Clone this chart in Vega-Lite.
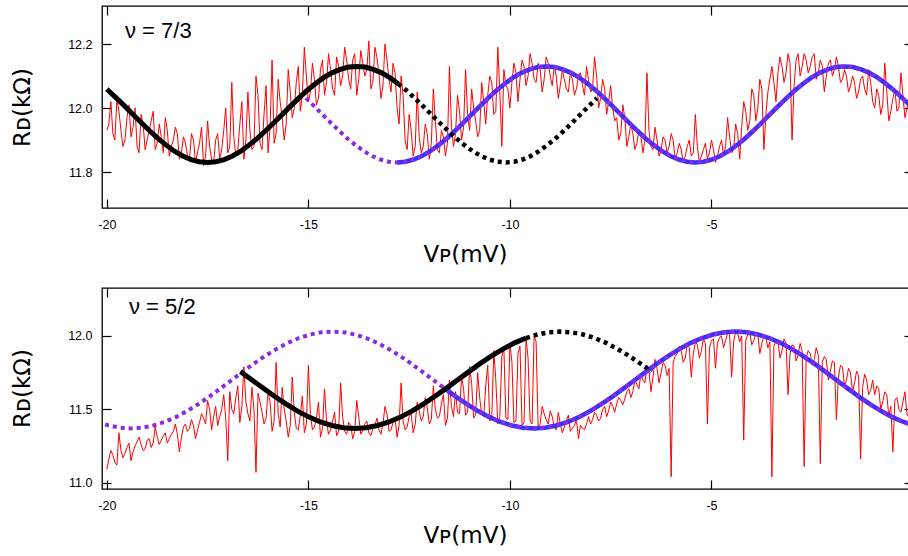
{
"$schema":"https://vega.github.io/schema/vega-lite/v6.json",
"background":"white",
"padding":{"left":10,"top":4,"right":0,"bottom":0},
"spacing":18,
"config":{"view":{"stroke":"#000","strokeWidth":1.3},"axis":{"grid":false,"domain":false,"tickColor":"#000","tickWidth":1.2,"labelColor":"#000","labelFont":"Liberation Sans","labelFontSize":12.5,"titleFont":"DejaVu Sans","titleFontSize":23,"titleFontWeight":"normal","titleColor":"#000","labelExpr":"replace(datum.label, '−', '-')"}},
"datasets":{
"topRed":[{"x":-20.0,"y":11.93},{"x":-19.9,"y":12.02},{"x":-19.8,"y":11.90},{"x":-19.7,"y":11.99},{"x":-19.6,"y":11.88},{"x":-19.5,"y":11.97},{"x":-19.4,"y":11.91},{"x":-19.3,"y":12.00},{"x":-19.2,"y":11.86},{"x":-19.1,"y":11.95},{"x":-19.0,"y":11.90},{"x":-18.9,"y":11.96},{"x":-18.8,"y":11.87},{"x":-18.7,"y":11.95},{"x":-18.6,"y":11.86},{"x":-18.5,"y":11.93},{"x":-18.4,"y":11.88},{"x":-18.3,"y":11.94},{"x":-18.2,"y":11.84},{"x":-18.1,"y":11.91},{"x":-18.0,"y":11.85},{"x":-17.9,"y":11.92},{"x":-17.8,"y":11.83},{"x":-17.7,"y":11.89},{"x":-17.6,"y":11.82},{"x":-17.5,"y":11.96},{"x":-17.4,"y":11.84},{"x":-17.3,"y":11.90},{"x":-17.2,"y":11.84},{"x":-17.1,"y":11.93},{"x":-17.0,"y":11.86},{"x":-16.9,"y":12.08},{"x":-16.8,"y":11.85},{"x":-16.7,"y":11.95},{"x":-16.6,"y":11.84},{"x":-16.5,"y":12.05},{"x":-16.4,"y":11.87},{"x":-16.3,"y":12.10},{"x":-16.2,"y":11.89},{"x":-16.1,"y":11.98},{"x":-16.0,"y":11.86},{"x":-15.9,"y":12.15},{"x":-15.8,"y":11.92},{"x":-15.7,"y":12.02},{"x":-15.6,"y":11.90},{"x":-15.5,"y":12.12},{"x":-15.4,"y":11.97},{"x":-15.3,"y":12.08},{"x":-15.2,"y":11.99},{"x":-15.1,"y":12.19},{"x":-15.0,"y":12.02},{"x":-14.9,"y":12.14},{"x":-14.8,"y":12.01},{"x":-14.7,"y":12.12},{"x":-14.6,"y":12.04},{"x":-14.5,"y":12.17},{"x":-14.4,"y":12.06},{"x":-14.3,"y":12.16},{"x":-14.2,"y":12.07},{"x":-14.1,"y":12.19},{"x":-14.0,"y":12.09},{"x":-13.9,"y":12.15},{"x":-13.8,"y":12.04},{"x":-13.7,"y":12.18},{"x":-13.6,"y":12.10},{"x":-13.5,"y":12.21},{"x":-13.4,"y":12.08},{"x":-13.3,"y":12.16},{"x":-13.2,"y":12.03},{"x":-13.1,"y":12.20},{"x":-13.0,"y":12.09},{"x":-12.9,"y":12.14},{"x":-12.8,"y":12.00},{"x":-12.7,"y":12.10},{"x":-12.6,"y":11.90},{"x":-12.5,"y":11.98},{"x":-12.4,"y":11.85},{"x":-12.3,"y":12.05},{"x":-12.2,"y":11.86},{"x":-12.1,"y":11.95},{"x":-12.0,"y":11.84},{"x":-11.9,"y":12.06},{"x":-11.8,"y":11.87},{"x":-11.7,"y":11.93},{"x":-11.6,"y":11.85},{"x":-11.5,"y":12.13},{"x":-11.4,"y":11.88},{"x":-11.3,"y":12.04},{"x":-11.2,"y":11.90},{"x":-11.1,"y":12.12},{"x":-11.0,"y":11.93},{"x":-10.9,"y":12.00},{"x":-10.8,"y":11.91},{"x":-10.7,"y":12.08},{"x":-10.6,"y":11.95},{"x":-10.5,"y":12.10},{"x":-10.4,"y":11.98},{"x":-10.3,"y":12.19},{"x":-10.2,"y":11.88},{"x":-10.1,"y":12.07},{"x":-10.0,"y":12.00},{"x":-9.9,"y":12.14},{"x":-9.8,"y":12.02},{"x":-9.7,"y":12.15},{"x":-9.6,"y":12.07},{"x":-9.5,"y":12.17},{"x":-9.4,"y":12.09},{"x":-9.3,"y":12.14},{"x":-9.2,"y":12.05},{"x":-9.1,"y":12.16},{"x":-9.0,"y":12.10},{"x":-8.9,"y":12.13},{"x":-8.8,"y":12.03},{"x":-8.7,"y":12.12},{"x":-8.6,"y":12.06},{"x":-8.5,"y":12.11},{"x":-8.4,"y":12.04},{"x":-8.3,"y":12.10},{"x":-8.2,"y":12.07},{"x":-8.1,"y":12.13},{"x":-8.0,"y":12.05},{"x":-7.9,"y":12.16},{"x":-7.8,"y":12.00},{"x":-7.7,"y":12.09},{"x":-7.6,"y":11.98},{"x":-7.5,"y":12.07},{"x":-7.4,"y":11.96},{"x":-7.3,"y":11.90},{"x":-7.2,"y":12.01},{"x":-7.1,"y":11.88},{"x":-7.0,"y":11.95},{"x":-6.9,"y":11.87},{"x":-6.8,"y":11.93},{"x":-6.7,"y":11.86},{"x":-6.6,"y":12.11},{"x":-6.5,"y":11.88},{"x":-6.4,"y":11.94},{"x":-6.3,"y":11.85},{"x":-6.2,"y":11.91},{"x":-6.1,"y":11.86},{"x":-6.0,"y":11.92},{"x":-5.9,"y":11.84},{"x":-5.8,"y":11.89},{"x":-5.7,"y":11.83},{"x":-5.6,"y":11.88},{"x":-5.5,"y":11.85},{"x":-5.4,"y":11.98},{"x":-5.3,"y":11.83},{"x":-5.2,"y":11.87},{"x":-5.1,"y":11.84},{"x":-5.0,"y":11.90},{"x":-4.9,"y":11.83},{"x":-4.8,"y":11.88},{"x":-4.7,"y":11.85},{"x":-4.6,"y":11.97},{"x":-4.5,"y":11.86},{"x":-4.4,"y":11.95},{"x":-4.3,"y":11.84},{"x":-4.2,"y":12.02},{"x":-4.1,"y":11.93},{"x":-4.0,"y":12.06},{"x":-3.9,"y":11.96},{"x":-3.8,"y":12.09},{"x":-3.7,"y":11.87},{"x":-3.6,"y":12.05},{"x":-3.5,"y":12.13},{"x":-3.4,"y":12.02},{"x":-3.3,"y":12.16},{"x":-3.2,"y":12.08},{"x":-3.1,"y":12.17},{"x":-3.0,"y":11.90},{"x":-2.9,"y":12.15},{"x":-2.8,"y":12.10},{"x":-2.7,"y":12.17},{"x":-2.6,"y":12.11},{"x":-2.5,"y":12.16},{"x":-2.4,"y":12.09},{"x":-2.3,"y":12.15},{"x":-2.2,"y":12.05},{"x":-2.1,"y":12.14},{"x":-2.0,"y":12.10},{"x":-1.9,"y":12.16},{"x":-1.8,"y":12.08},{"x":-1.7,"y":12.12},{"x":-1.6,"y":12.05},{"x":-1.5,"y":12.10},{"x":-1.4,"y":12.03},{"x":-1.3,"y":12.09},{"x":-1.2,"y":12.06},{"x":-1.1,"y":12.12},{"x":-1.0,"y":12.02},{"x":-0.9,"y":12.06},{"x":-0.8,"y":11.98},{"x":-0.7,"y":12.14},{"x":-0.6,"y":11.96},{"x":-0.5,"y":12.03},{"x":-0.4,"y":11.99},{"x":-0.3,"y":12.11},{"x":-0.2,"y":11.97},{"x":-0.1,"y":12.02},
{"x":-19.95,"y":11.95},{"x":-19.85,"y":11.92},{"x":-19.75,"y":12.03},{"x":-19.65,"y":11.93},{"x":-19.55,"y":11.90},{"x":-19.45,"y":12.01},{"x":-19.35,"y":11.94},{"x":-19.25,"y":11.88},{"x":-19.15,"y":11.98},{"x":-19.05,"y":11.87},{"x":-18.95,"y":11.93},{"x":-18.85,"y":11.99},{"x":-18.75,"y":11.89},{"x":-18.65,"y":11.91},{"x":-18.55,"y":11.97},{"x":-18.45,"y":11.85},{"x":-18.35,"y":11.90},{"x":-18.25,"y":11.92},{"x":-18.15,"y":11.86},{"x":-18.05,"y":11.89},{"x":-17.95,"y":11.84},{"x":-17.85,"y":11.90},{"x":-17.75,"y":11.86},{"x":-17.65,"y":11.94},{"x":-17.55,"y":11.85},{"x":-17.45,"y":11.88},{"x":-17.35,"y":11.83},{"x":-17.25,"y":11.92},{"x":-17.15,"y":11.87},{"x":-17.05,"y":12.00},{"x":-16.95,"y":11.88},{"x":-16.85,"y":11.91},{"x":-16.75,"y":11.87},{"x":-16.65,"y":12.02},{"x":-16.55,"y":11.90},{"x":-16.45,"y":11.93},{"x":-16.35,"y":11.88},{"x":-16.25,"y":12.04},{"x":-16.15,"y":11.87},{"x":-16.05,"y":12.07},{"x":-15.95,"y":11.94},{"x":-15.85,"y":11.89},{"x":-15.75,"y":12.09},{"x":-15.65,"y":11.97},{"x":-15.55,"y":11.95},{"x":-15.45,"y":12.05},{"x":-15.35,"y":12.00},{"x":-15.25,"y":12.13},{"x":-15.15,"y":12.04},{"x":-15.05,"y":12.10},{"x":-14.95,"y":12.05},{"x":-14.85,"y":12.09},{"x":-14.75,"y":12.03},{"x":-14.65,"y":12.15},{"x":-14.55,"y":12.08},{"x":-14.45,"y":12.12},{"x":-14.35,"y":12.04},{"x":-14.25,"y":12.13},{"x":-14.15,"y":12.10},{"x":-14.05,"y":12.15},{"x":-13.95,"y":12.06},{"x":-13.85,"y":12.17},{"x":-13.75,"y":12.09},{"x":-13.65,"y":12.14},{"x":-13.55,"y":12.12},{"x":-13.45,"y":12.06},{"x":-13.35,"y":12.19},{"x":-13.25,"y":12.11},{"x":-13.15,"y":12.07},{"x":-13.05,"y":12.15},{"x":-12.95,"y":12.05},{"x":-12.85,"y":12.11},{"x":-12.75,"y":11.95},{"x":-12.65,"y":12.04},{"x":-12.55,"y":11.87},{"x":-12.45,"y":11.93},{"x":-12.35,"y":11.88},{"x":-12.25,"y":11.91},{"x":-12.15,"y":11.88},{"x":-12.05,"y":11.92},{"x":-11.95,"y":11.89},{"x":-11.85,"y":11.96},{"x":-11.75,"y":11.86},{"x":-11.65,"y":11.91},{"x":-11.55,"y":11.89},{"x":-11.45,"y":11.94},{"x":-11.35,"y":11.92},{"x":-11.25,"y":11.99},{"x":-11.15,"y":11.94},{"x":-11.05,"y":11.98},{"x":-10.95,"y":12.06},{"x":-10.85,"y":11.96},{"x":-10.75,"y":11.93},{"x":-10.65,"y":12.02},{"x":-10.55,"y":12.04},{"x":-10.45,"y":12.08},{"x":-10.35,"y":11.99},{"x":-10.25,"y":12.05},{"x":-10.15,"y":12.12},{"x":-10.05,"y":12.06},{"x":-9.95,"y":12.08},{"x":-9.85,"y":12.11},{"x":-9.75,"y":12.09},{"x":-9.65,"y":12.13},{"x":-9.55,"y":12.10},{"x":-9.45,"y":12.14},{"x":-9.35,"y":12.08},{"x":-9.25,"y":12.12},{"x":-9.15,"y":12.09},{"x":-9.05,"y":12.14},{"x":-8.95,"y":12.07},{"x":-8.85,"y":12.10},{"x":-8.75,"y":12.07},{"x":-8.65,"y":12.09},{"x":-8.55,"y":12.05},{"x":-8.45,"y":12.09},{"x":-8.35,"y":12.06},{"x":-8.25,"y":12.11},{"x":-8.15,"y":12.04},{"x":-8.05,"y":12.09},{"x":-7.95,"y":12.06},{"x":-7.85,"y":12.10},{"x":-7.75,"y":12.03},{"x":-7.65,"y":12.06},{"x":-7.55,"y":12.02},{"x":-7.45,"y":12.00},{"x":-7.35,"y":11.97},{"x":-7.25,"y":11.92},{"x":-7.15,"y":11.97},{"x":-7.05,"y":11.91},{"x":-6.95,"y":11.92},{"x":-6.85,"y":11.89},{"x":-6.75,"y":11.91},{"x":-6.65,"y":11.90},{"x":-6.55,"y":11.93},{"x":-6.45,"y":11.87},{"x":-6.35,"y":11.90},{"x":-6.25,"y":11.87},{"x":-6.15,"y":11.90},{"x":-6.05,"y":11.88},{"x":-5.95,"y":11.90},{"x":-5.85,"y":11.86},{"x":-5.75,"y":11.87},{"x":-5.65,"y":11.85},{"x":-5.55,"y":11.90},{"x":-5.45,"y":11.86},{"x":-5.35,"y":11.88},{"x":-5.25,"y":11.85},{"x":-5.15,"y":11.89},{"x":-5.05,"y":11.86},{"x":-4.95,"y":11.87},{"x":-4.85,"y":11.85},{"x":-4.75,"y":11.90},{"x":-4.65,"y":11.88},{"x":-4.55,"y":11.91},{"x":-4.45,"y":11.87},{"x":-4.35,"y":11.92},{"x":-4.25,"y":11.94},{"x":-4.15,"y":11.99},{"x":-4.05,"y":11.96},{"x":-3.95,"y":12.04},{"x":-3.85,"y":12.00},{"x":-3.75,"y":12.06},{"x":-3.65,"y":11.98},{"x":-3.55,"y":12.09},{"x":-3.45,"y":12.08},{"x":-3.35,"y":12.11},{"x":-3.25,"y":12.13},{"x":-3.15,"y":12.11},{"x":-3.05,"y":12.14},{"x":-2.95,"y":12.07},{"x":-2.85,"y":12.17},{"x":-2.75,"y":12.13},{"x":-2.65,"y":12.15},{"x":-2.55,"y":12.13},{"x":-2.45,"y":12.17},{"x":-2.35,"y":12.11},{"x":-2.25,"y":12.13},{"x":-2.15,"y":12.10},{"x":-2.05,"y":12.15},{"x":-1.95,"y":12.12},{"x":-1.85,"y":12.13},{"x":-1.75,"y":12.09},{"x":-1.65,"y":12.10},{"x":-1.55,"y":12.07},{"x":-1.45,"y":12.08},{"x":-1.35,"y":12.05},{"x":-1.25,"y":12.10},{"x":-1.15,"y":12.04},{"x":-1.05,"y":12.08},{"x":-0.95,"y":12.00},{"x":-0.85,"y":12.04},{"x":-0.75,"y":12.01},{"x":-0.65,"y":12.05},{"x":-0.55,"y":11.99},{"x":-0.45,"y":12.06},{"x":-0.35,"y":12.00},{"x":-0.25,"y":12.04},{"x":-0.15,"y":12.00},{"x":-0.05,"y":11.98}],
"botRed":[{"x":-20.0,"y":11.09},{"x":-19.9,"y":11.22},{"x":-19.8,"y":11.14},{"x":-19.7,"y":11.34},{"x":-19.6,"y":11.17},{"x":-19.5,"y":11.24},{"x":-19.4,"y":11.15},{"x":-19.3,"y":11.25},{"x":-19.2,"y":11.31},{"x":-19.1,"y":11.22},{"x":-19.0,"y":11.29},{"x":-18.9,"y":11.24},{"x":-18.8,"y":11.38},{"x":-18.7,"y":11.26},{"x":-18.6,"y":11.32},{"x":-18.5,"y":11.27},{"x":-18.4,"y":11.33},{"x":-18.3,"y":11.40},{"x":-18.2,"y":11.21},{"x":-18.1,"y":11.38},{"x":-18.0,"y":11.35},{"x":-17.9,"y":11.43},{"x":-17.8,"y":11.30},{"x":-17.7,"y":11.41},{"x":-17.6,"y":11.44},{"x":-17.5,"y":11.56},{"x":-17.4,"y":11.36},{"x":-17.3,"y":11.52},{"x":-17.2,"y":11.45},{"x":-17.1,"y":11.60},{"x":-17.0,"y":11.15},{"x":-16.9,"y":11.50},{"x":-16.8,"y":11.58},{"x":-16.7,"y":11.41},{"x":-16.6,"y":11.79},{"x":-16.5,"y":11.47},{"x":-16.4,"y":11.65},{"x":-16.3,"y":11.07},{"x":-16.2,"y":11.55},{"x":-16.1,"y":11.40},{"x":-16.0,"y":11.62},{"x":-15.9,"y":11.35},{"x":-15.8,"y":11.82},{"x":-15.7,"y":11.38},{"x":-15.6,"y":11.50},{"x":-15.5,"y":11.31},{"x":-15.4,"y":11.72},{"x":-15.3,"y":11.37},{"x":-15.2,"y":11.46},{"x":-15.1,"y":11.34},{"x":-15.0,"y":11.80},{"x":-14.9,"y":11.36},{"x":-14.8,"y":11.44},{"x":-14.7,"y":11.31},{"x":-14.6,"y":11.64},{"x":-14.5,"y":11.33},{"x":-14.4,"y":11.42},{"x":-14.3,"y":11.32},{"x":-14.2,"y":11.68},{"x":-14.1,"y":11.35},{"x":-14.0,"y":11.41},{"x":-13.9,"y":11.30},{"x":-13.8,"y":11.56},{"x":-13.7,"y":11.33},{"x":-13.6,"y":11.40},{"x":-13.5,"y":11.34},{"x":-13.4,"y":11.37},{"x":-13.3,"y":11.44},{"x":-13.2,"y":11.33},{"x":-13.1,"y":11.52},{"x":-13.0,"y":11.35},{"x":-12.9,"y":11.41},{"x":-12.8,"y":11.31},{"x":-12.7,"y":11.68},{"x":-12.6,"y":11.36},{"x":-12.5,"y":11.45},{"x":-12.4,"y":11.34},{"x":-12.3,"y":11.55},{"x":-12.2,"y":11.42},{"x":-12.1,"y":11.58},{"x":-12.0,"y":11.40},{"x":-11.9,"y":11.66},{"x":-11.8,"y":11.44},{"x":-11.7,"y":11.54},{"x":-11.6,"y":11.39},{"x":-11.5,"y":11.70},{"x":-11.4,"y":11.45},{"x":-11.3,"y":11.48},{"x":-11.2,"y":11.72},{"x":-11.1,"y":11.46},{"x":-11.0,"y":11.79},{"x":-10.9,"y":11.44},{"x":-10.8,"y":11.75},{"x":-10.7,"y":11.47},{"x":-10.6,"y":11.66},{"x":-10.5,"y":11.42},{"x":-10.4,"y":11.90},{"x":-10.3,"y":11.40},{"x":-10.2,"y":11.86},{"x":-10.1,"y":11.44},{"x":-10.0,"y":11.95},{"x":-9.9,"y":11.41},{"x":-9.8,"y":11.88},{"x":-9.7,"y":11.39},{"x":-9.6,"y":11.98},{"x":-9.5,"y":11.42},{"x":-9.4,"y":12.00},{"x":-9.3,"y":11.38},{"x":-9.2,"y":11.52},{"x":-9.1,"y":11.43},{"x":-9.0,"y":11.49},{"x":-8.9,"y":11.38},{"x":-8.8,"y":11.48},{"x":-8.7,"y":11.34},{"x":-8.6,"y":11.42},{"x":-8.5,"y":11.35},{"x":-8.4,"y":11.39},{"x":-8.3,"y":11.30},{"x":-8.2,"y":11.37},{"x":-8.1,"y":11.40},{"x":-8.0,"y":11.40},{"x":-7.9,"y":11.48},{"x":-7.8,"y":11.42},{"x":-7.7,"y":11.50},{"x":-7.6,"y":11.45},{"x":-7.5,"y":11.55},{"x":-7.4,"y":11.48},{"x":-7.3,"y":11.58},{"x":-7.2,"y":11.53},{"x":-7.1,"y":11.62},{"x":-7.0,"y":11.58},{"x":-6.9,"y":11.70},{"x":-6.8,"y":11.64},{"x":-6.7,"y":11.70},{"x":-6.6,"y":11.80},{"x":-6.5,"y":11.62},{"x":-6.4,"y":11.84},{"x":-6.3,"y":11.68},{"x":-6.2,"y":11.82},{"x":-6.1,"y":11.73},{"x":-6.0,"y":11.04},{"x":-5.9,"y":11.86},{"x":-5.8,"y":11.93},{"x":-5.7,"y":11.82},{"x":-5.6,"y":11.95},{"x":-5.5,"y":11.72},{"x":-5.4,"y":11.96},{"x":-5.3,"y":11.85},{"x":-5.2,"y":11.98},{"x":-5.1,"y":11.40},{"x":-5.0,"y":11.97},{"x":-4.9,"y":11.78},{"x":-4.8,"y":11.99},{"x":-4.7,"y":11.92},{"x":-4.6,"y":12.02},{"x":-4.5,"y":11.72},{"x":-4.4,"y":12.03},{"x":-4.3,"y":11.96},{"x":-4.2,"y":11.29},{"x":-4.1,"y":12.01},{"x":-4.0,"y":11.94},{"x":-3.9,"y":12.02},{"x":-3.8,"y":11.88},{"x":-3.7,"y":12.00},{"x":-3.6,"y":11.92},{"x":-3.5,"y":11.04},{"x":-3.4,"y":11.97},{"x":-3.3,"y":11.85},{"x":-3.2,"y":11.98},{"x":-3.1,"y":11.60},{"x":-3.0,"y":11.94},{"x":-2.9,"y":11.83},{"x":-2.8,"y":11.95},{"x":-2.7,"y":11.11},{"x":-2.6,"y":11.90},{"x":-2.5,"y":11.80},{"x":-2.4,"y":11.92},{"x":-2.3,"y":11.13},{"x":-2.2,"y":11.86},{"x":-2.1,"y":11.70},{"x":-2.0,"y":11.83},{"x":-1.9,"y":11.43},{"x":-1.8,"y":11.80},{"x":-1.7,"y":11.66},{"x":-1.6,"y":11.78},{"x":-1.5,"y":11.62},{"x":-1.4,"y":11.76},{"x":-1.3,"y":11.16},{"x":-1.2,"y":11.74},{"x":-1.1,"y":11.60},{"x":-1.0,"y":11.70},{"x":-0.9,"y":11.66},{"x":-0.8,"y":11.50},{"x":-0.7,"y":11.62},{"x":-0.6,"y":11.45},{"x":-0.5,"y":11.21},{"x":-0.4,"y":11.58},{"x":-0.3,"y":11.48},{"x":-0.2,"y":11.62},{"x":-0.1,"y":11.44},
{"x":-19.95,"y":11.16},{"x":-19.85,"y":11.19},{"x":-19.75,"y":11.12},{"x":-19.65,"y":11.22},{"x":-19.55,"y":11.20},{"x":-19.45,"y":11.27},{"x":-19.35,"y":11.21},{"x":-19.25,"y":11.28},{"x":-19.15,"y":11.26},{"x":-19.05,"y":11.23},{"x":-18.95,"y":11.30},{"x":-18.85,"y":11.27},{"x":-18.75,"y":11.31},{"x":-18.65,"y":11.29},{"x":-18.55,"y":11.34},{"x":-18.45,"y":11.30},{"x":-18.35,"y":11.35},{"x":-18.25,"y":11.33},{"x":-18.15,"y":11.31},{"x":-18.05,"y":11.40},{"x":-17.95,"y":11.37},{"x":-17.85,"y":11.39},{"x":-17.75,"y":11.36},{"x":-17.65,"y":11.47},{"x":-17.55,"y":11.40},{"x":-17.45,"y":11.50},{"x":-17.35,"y":11.45},{"x":-17.25,"y":11.39},{"x":-17.15,"y":11.50},{"x":-17.05,"y":11.44},{"x":-16.95,"y":11.62},{"x":-16.85,"y":11.47},{"x":-16.75,"y":11.66},{"x":-16.65,"y":11.52},{"x":-16.55,"y":11.55},{"x":-16.45,"y":11.42},{"x":-16.35,"y":11.50},{"x":-16.25,"y":11.61},{"x":-16.15,"y":11.48},{"x":-16.05,"y":11.44},{"x":-15.95,"y":11.55},{"x":-15.85,"y":11.42},{"x":-15.75,"y":11.47},{"x":-15.65,"y":11.65},{"x":-15.55,"y":11.42},{"x":-15.45,"y":11.39},{"x":-15.35,"y":11.48},{"x":-15.25,"y":11.36},{"x":-15.15,"y":11.59},{"x":-15.05,"y":11.40},{"x":-14.95,"y":11.47},{"x":-14.85,"y":11.38},{"x":-14.75,"y":11.55},{"x":-14.65,"y":11.37},{"x":-14.55,"y":11.42},{"x":-14.45,"y":11.36},{"x":-14.35,"y":11.48},{"x":-14.25,"y":11.35},{"x":-14.15,"y":11.45},{"x":-14.05,"y":11.33},{"x":-13.95,"y":11.39},{"x":-13.85,"y":11.35},{"x":-13.75,"y":11.45},{"x":-13.65,"y":11.36},{"x":-13.55,"y":11.42},{"x":-13.45,"y":11.32},{"x":-13.35,"y":11.39},{"x":-13.25,"y":11.36},{"x":-13.15,"y":11.40},{"x":-13.05,"y":11.47},{"x":-12.95,"y":11.36},{"x":-12.85,"y":11.44},{"x":-12.75,"y":11.39},{"x":-12.65,"y":11.42},{"x":-12.55,"y":11.38},{"x":-12.45,"y":11.47},{"x":-12.35,"y":11.40},{"x":-12.25,"y":11.49},{"x":-12.15,"y":11.45},{"x":-12.05,"y":11.51},{"x":-11.95,"y":11.43},{"x":-11.85,"y":11.50},{"x":-11.75,"y":11.45},{"x":-11.65,"y":11.60},{"x":-11.55,"y":11.44},{"x":-11.45,"y":11.52},{"x":-11.35,"y":11.62},{"x":-11.25,"y":11.47},{"x":-11.15,"y":11.64},{"x":-11.05,"y":11.48},{"x":-10.95,"y":11.68},{"x":-10.85,"y":11.46},{"x":-10.75,"y":11.58},{"x":-10.65,"y":11.45},{"x":-10.55,"y":11.80},{"x":-10.45,"y":11.44},{"x":-10.35,"y":11.70},{"x":-10.25,"y":11.45},{"x":-10.15,"y":11.92},{"x":-10.05,"y":11.43},{"x":-9.95,"y":11.82},{"x":-9.85,"y":11.42},{"x":-9.75,"y":11.93},{"x":-9.65,"y":11.41},{"x":-9.55,"y":11.85},{"x":-9.45,"y":11.40},{"x":-9.35,"y":11.96},{"x":-9.25,"y":11.40},{"x":-9.15,"y":11.47},{"x":-9.05,"y":11.40},{"x":-8.95,"y":11.45},{"x":-8.85,"y":11.36},{"x":-8.75,"y":11.40},{"x":-8.65,"y":11.38},{"x":-8.55,"y":11.46},{"x":-8.45,"y":11.37},{"x":-8.35,"y":11.43},{"x":-8.25,"y":11.39},{"x":-8.15,"y":11.36},{"x":-8.05,"y":11.45},{"x":-7.95,"y":11.43},{"x":-7.85,"y":11.46},{"x":-7.75,"y":11.44},{"x":-7.65,"y":11.52},{"x":-7.55,"y":11.49},{"x":-7.45,"y":11.52},{"x":-7.35,"y":11.54},{"x":-7.25,"y":11.56},{"x":-7.15,"y":11.57},{"x":-7.05,"y":11.64},{"x":-6.95,"y":11.62},{"x":-6.85,"y":11.67},{"x":-6.75,"y":11.74},{"x":-6.65,"y":11.68},{"x":-6.55,"y":11.76},{"x":-6.45,"y":11.72},{"x":-6.35,"y":11.78},{"x":-6.25,"y":11.75},{"x":-6.15,"y":11.80},{"x":-6.05,"y":11.78},{"x":-5.95,"y":11.82},{"x":-5.85,"y":11.88},{"x":-5.75,"y":11.90},{"x":-5.65,"y":11.85},{"x":-5.55,"y":11.92},{"x":-5.45,"y":11.88},{"x":-5.35,"y":11.94},{"x":-5.25,"y":11.90},{"x":-5.15,"y":11.95},{"x":-5.05,"y":11.92},{"x":-4.95,"y":11.98},{"x":-4.85,"y":11.95},{"x":-4.75,"y":12.00},{"x":-4.65,"y":11.97},{"x":-4.55,"y":12.01},{"x":-4.45,"y":11.96},{"x":-4.35,"y":12.02},{"x":-4.25,"y":12.00},{"x":-4.15,"y":11.97},{"x":-4.05,"y":12.02},{"x":-3.95,"y":11.97},{"x":-3.85,"y":12.01},{"x":-3.75,"y":11.95},{"x":-3.65,"y":11.99},{"x":-3.55,"y":11.96},{"x":-3.45,"y":11.93},{"x":-3.35,"y":11.96},{"x":-3.25,"y":11.90},{"x":-3.15,"y":11.95},{"x":-3.05,"y":11.88},{"x":-2.95,"y":11.93},{"x":-2.85,"y":11.87},{"x":-2.75,"y":11.90},{"x":-2.65,"y":11.85},{"x":-2.55,"y":11.88},{"x":-2.45,"y":11.84},{"x":-2.35,"y":11.87},{"x":-2.25,"y":11.82},{"x":-2.15,"y":11.84},{"x":-2.05,"y":11.76},{"x":-1.95,"y":11.82},{"x":-1.85,"y":11.72},{"x":-1.75,"y":11.79},{"x":-1.65,"y":11.70},{"x":-1.55,"y":11.75},{"x":-1.45,"y":11.68},{"x":-1.35,"y":11.73},{"x":-1.25,"y":11.65},{"x":-1.15,"y":11.70},{"x":-1.05,"y":11.63},{"x":-0.95,"y":11.60},{"x":-0.85,"y":11.64},{"x":-0.75,"y":11.55},{"x":-0.65,"y":11.60},{"x":-0.55,"y":11.52},{"x":-0.45,"y":11.56},{"x":-0.35,"y":11.50},{"x":-0.25,"y":11.55},{"x":-0.15,"y":11.47},{"x":-0.05,"y":11.52}],
"topBlack":[{"x":-20.0,"y":12.059},{"x":-19.967,"y":12.055},{"x":-19.761,"y":12.031},{"x":-19.556,"y":12.006},{"x":-19.350,"y":11.980},{"x":-19.144,"y":11.954},{"x":-18.939,"y":11.929},{"x":-18.733,"y":11.905},{"x":-18.528,"y":11.884},{"x":-18.322,"y":11.865},{"x":-18.117,"y":11.850},{"x":-17.911,"y":11.839},{"x":-17.706,"y":11.832},{"x":-17.500,"y":11.830},{"x":-17.294,"y":11.832},{"x":-17.089,"y":11.839},{"x":-16.883,"y":11.850},{"x":-16.678,"y":11.865},{"x":-16.472,"y":11.884},{"x":-16.267,"y":11.905},{"x":-16.061,"y":11.929},{"x":-15.856,"y":11.954},{"x":-15.650,"y":11.980},{"x":-15.444,"y":12.006},{"x":-15.239,"y":12.031},{"x":-15.033,"y":12.055},{"x":-14.828,"y":12.076},{"x":-14.622,"y":12.095},{"x":-14.417,"y":12.110},{"x":-14.211,"y":12.121},{"x":-14.006,"y":12.128},{"x":-13.800,"y":12.130},{"x":-13.594,"y":12.128},{"x":-13.389,"y":12.121},{"x":-13.183,"y":12.110},{"x":-12.978,"y":12.095},{"x":-12.772,"y":12.076},{"x":-12.567,"y":12.055},{"x":-12.361,"y":12.031},{"x":-12.156,"y":12.006},{"x":-11.950,"y":11.980},{"x":-11.744,"y":11.954},{"x":-11.539,"y":11.929},{"x":-11.333,"y":11.905},{"x":-11.128,"y":11.884},{"x":-10.922,"y":11.865},{"x":-10.717,"y":11.850},{"x":-10.511,"y":11.839},{"x":-10.306,"y":11.832},{"x":-10.100,"y":11.830},{"x":-9.894,"y":11.832},{"x":-9.689,"y":11.839},{"x":-9.483,"y":11.850},{"x":-9.278,"y":11.865},{"x":-9.072,"y":11.884},{"x":-8.867,"y":11.905},{"x":-8.661,"y":11.929},{"x":-8.456,"y":11.954},{"x":-8.250,"y":11.980},{"x":-8.044,"y":12.006},{"x":-7.839,"y":12.031}],
"topPurple":[{"x":-15.061,"y":12.031},{"x":-14.856,"y":12.006},{"x":-14.650,"y":11.980},{"x":-14.445,"y":11.954},{"x":-14.239,"y":11.929},{"x":-14.033,"y":11.905},{"x":-13.828,"y":11.884},{"x":-13.622,"y":11.865},{"x":-13.417,"y":11.850},{"x":-13.211,"y":11.839},{"x":-13.006,"y":11.832},{"x":-12.800,"y":11.830},{"x":-12.594,"y":11.832},{"x":-12.389,"y":11.839},{"x":-12.183,"y":11.850},{"x":-11.978,"y":11.865},{"x":-11.772,"y":11.884},{"x":-11.567,"y":11.905},{"x":-11.361,"y":11.929},{"x":-11.156,"y":11.954},{"x":-10.950,"y":11.980},{"x":-10.744,"y":12.006},{"x":-10.539,"y":12.031},{"x":-10.333,"y":12.055},{"x":-10.128,"y":12.076},{"x":-9.922,"y":12.095},{"x":-9.717,"y":12.110},{"x":-9.511,"y":12.121},{"x":-9.306,"y":12.128},{"x":-9.100,"y":12.130},{"x":-8.894,"y":12.128},{"x":-8.689,"y":12.121},{"x":-8.483,"y":12.110},{"x":-8.278,"y":12.095},{"x":-8.072,"y":12.076},{"x":-7.867,"y":12.055},{"x":-7.661,"y":12.031},{"x":-7.456,"y":12.006},{"x":-7.250,"y":11.980},{"x":-7.044,"y":11.954},{"x":-6.839,"y":11.929},{"x":-6.633,"y":11.905},{"x":-6.428,"y":11.884},{"x":-6.222,"y":11.865},{"x":-6.017,"y":11.850},{"x":-5.811,"y":11.839},{"x":-5.606,"y":11.832},{"x":-5.400,"y":11.830},{"x":-5.194,"y":11.832},{"x":-4.989,"y":11.839},{"x":-4.783,"y":11.850},{"x":-4.578,"y":11.865},{"x":-4.372,"y":11.884},{"x":-4.167,"y":11.905},{"x":-3.961,"y":11.929},{"x":-3.756,"y":11.954},{"x":-3.550,"y":11.980},{"x":-3.344,"y":12.006},{"x":-3.139,"y":12.031},{"x":-2.933,"y":12.055},{"x":-2.728,"y":12.076},{"x":-2.522,"y":12.095},{"x":-2.317,"y":12.110},{"x":-2.111,"y":12.121},{"x":-1.906,"y":12.128},{"x":-1.700,"y":12.130},{"x":-1.494,"y":12.128},{"x":-1.289,"y":12.121},{"x":-1.083,"y":12.110},{"x":-0.878,"y":12.095},{"x":-0.672,"y":12.076},{"x":-0.467,"y":12.055},{"x":-0.261,"y":12.031},{"x":-0.056,"y":12.006}],
"botBlack":[{"x":-16.683,"y":11.757},{"x":-16.400,"y":11.700},{"x":-16.117,"y":11.643},{"x":-15.833,"y":11.587},{"x":-15.550,"y":11.535},{"x":-15.267,"y":11.488},{"x":-14.983,"y":11.447},{"x":-14.700,"y":11.414},{"x":-14.417,"y":11.390},{"x":-14.133,"y":11.375},{"x":-13.850,"y":11.370},{"x":-13.567,"y":11.375},{"x":-13.283,"y":11.390},{"x":-13.000,"y":11.414},{"x":-12.717,"y":11.447},{"x":-12.433,"y":11.488},{"x":-12.150,"y":11.535},{"x":-11.867,"y":11.587},{"x":-11.583,"y":11.643},{"x":-11.300,"y":11.700},{"x":-11.017,"y":11.757},{"x":-10.733,"y":11.813},{"x":-10.450,"y":11.865},{"x":-10.167,"y":11.912},{"x":-9.883,"y":11.953},{"x":-9.600,"y":11.986},{"x":-9.317,"y":12.010},{"x":-9.033,"y":12.025},{"x":-8.750,"y":12.030},{"x":-8.467,"y":12.025},{"x":-8.183,"y":12.010},{"x":-7.900,"y":11.986},{"x":-7.617,"y":11.953},{"x":-7.333,"y":11.912},{"x":-7.050,"y":11.865},{"x":-6.767,"y":11.813},{"x":-6.483,"y":11.757}],
"botPurple":[{"x":-20.233,"y":11.414},{"x":-19.956,"y":11.390},{"x":-19.678,"y":11.375},{"x":-19.400,"y":11.370},{"x":-19.122,"y":11.375},{"x":-18.844,"y":11.390},{"x":-18.567,"y":11.414},{"x":-18.289,"y":11.447},{"x":-18.011,"y":11.488},{"x":-17.733,"y":11.535},{"x":-17.456,"y":11.587},{"x":-17.178,"y":11.643},{"x":-16.900,"y":11.700},{"x":-16.622,"y":11.757},{"x":-16.344,"y":11.813},{"x":-16.067,"y":11.865},{"x":-15.789,"y":11.912},{"x":-15.511,"y":11.953},{"x":-15.233,"y":11.986},{"x":-14.956,"y":12.010},{"x":-14.678,"y":12.025},{"x":-14.400,"y":12.030},{"x":-14.122,"y":12.025},{"x":-13.844,"y":12.010},{"x":-13.567,"y":11.986},{"x":-13.289,"y":11.953},{"x":-13.011,"y":11.912},{"x":-12.733,"y":11.865},{"x":-12.456,"y":11.813},{"x":-12.178,"y":11.757},{"x":-11.900,"y":11.700},{"x":-11.622,"y":11.643},{"x":-11.344,"y":11.587},{"x":-11.067,"y":11.535},{"x":-10.789,"y":11.488},{"x":-10.511,"y":11.447},{"x":-10.233,"y":11.414},{"x":-9.956,"y":11.390},{"x":-9.678,"y":11.375},{"x":-9.400,"y":11.370},{"x":-9.122,"y":11.375},{"x":-8.844,"y":11.390},{"x":-8.567,"y":11.414},{"x":-8.289,"y":11.447},{"x":-8.011,"y":11.488},{"x":-7.733,"y":11.535},{"x":-7.456,"y":11.587},{"x":-7.178,"y":11.643},{"x":-6.900,"y":11.700},{"x":-6.622,"y":11.757},{"x":-6.344,"y":11.813},{"x":-6.067,"y":11.865},{"x":-5.789,"y":11.912},{"x":-5.511,"y":11.953},{"x":-5.233,"y":11.986},{"x":-4.956,"y":12.010},{"x":-4.678,"y":12.025},{"x":-4.400,"y":12.030},{"x":-4.122,"y":12.025},{"x":-3.844,"y":12.010},{"x":-3.567,"y":11.986},{"x":-3.289,"y":11.953},{"x":-3.011,"y":11.912},{"x":-2.733,"y":11.865},{"x":-2.456,"y":11.813},{"x":-2.178,"y":11.757},{"x":-1.900,"y":11.700},{"x":-1.622,"y":11.643},{"x":-1.344,"y":11.587},{"x":-1.067,"y":11.535},{"x":-0.789,"y":11.488},{"x":-0.511,"y":11.447},{"x":-0.233,"y":11.414},{"x":0.044,"y":11.390}]
},
"vconcat":[
{
"width":811,"height":202,
"layer":[
{"data":{"name":"topRed"},"mark":{"type":"line","color":"#ff0000","strokeWidth":1,"clip":true},
 "encoding":{"x":{"field":"x","type":"quantitative","scale":{"domain":[-20.12,0],"nice":false,"zero":false},"axis":{"orient":"bottom","values":[-20,-15,-10,-5],"tickSize":-9,"labelPadding":19,"title":"Vᴘ(mV)","titlePadding":13,"titleX":363,"titleAlign":"center"}},
 "y":{"field":"y","type":"quantitative","scale":{"domain":[11.6875,12.319],"nice":false,"zero":false},"axis":{"orient":"left","values":[11.8,12.0,12.2],"format":".1f","tickSize":-9,"labelPadding":19,"title":"Rᴅ(kΩ)","titleX":-80,"titleY":101,"titleAngle":270,"titleAlign":"center","titleBaseline":"middle"}}}},
{"data":{"name":"topBlack"},"transform":[{"filter":"datum.x <= -12.77"}],"mark":{"type":"line","color":"#000","strokeWidth":5,"clip":true},"encoding":{"x":{"field":"x","type":"quantitative","axis":null},"y":{"field":"y","type":"quantitative","axis":null}}},
{"data":{"name":"topPurple"},"transform":[{"filter":"datum.x >= -12.81"}],"mark":{"type":"line","color":"#3333ff","strokeWidth":4.5,"clip":true},"encoding":{"x":{"field":"x","type":"quantitative","axis":null},"y":{"field":"y","type":"quantitative","axis":null}}},
{"data":{"name":"topPurple"},"mark":{"type":"line","color":"#8a2be2","strokeWidth":4,"strokeDash":[4,4],"clip":true},"encoding":{"x":{"field":"x","type":"quantitative","axis":null},"y":{"field":"y","type":"quantitative","axis":null}}},
{"data":{"name":"topBlack"},"transform":[{"filter":"datum.x >= -12.78"}],"mark":{"type":"line","color":"#000","strokeWidth":4.5,"strokeDash":[4,4],"clip":true},"encoding":{"x":{"field":"x","type":"quantitative","axis":null},"y":{"field":"y","type":"quantitative","axis":null}}},
{"data":{"values":[{}]},"mark":{"type":"text","align":"left","baseline":"middle","fontSize":22,"font":"Liberation Sans","color":"#000"},"encoding":{"x":{"datum":-19.55,"type":"quantitative","axis":null},"y":{"datum":12.24,"type":"quantitative","axis":null},"text":{"value":"ν = 7/3"}}},
{"data":{"name":"topRed"},"mark":{"type":"line","opacity":0},"encoding":{"x":{"field":"x","type":"quantitative","axis":{"orient":"top","values":[-20,-15,-10,-5,0],"tickSize":-9,"labels":false,"title":null}},"y":{"field":"y","type":"quantitative","axis":{"orient":"right","values":[11.8,12.0,12.2],"tickSize":-9,"labels":false,"title":null}}}}
],
"resolve":{"axis":{"x":"independent","y":"independent"}}
},
{
"width":811,"height":201,
"layer":[
{"data":{"name":"botRed"},"mark":{"type":"line","color":"#ff0000","strokeWidth":1,"clip":true},
 "encoding":{"x":{"field":"x","type":"quantitative","scale":{"domain":[-20.12,0],"nice":false,"zero":false},"axis":{"orient":"bottom","values":[-20,-15,-10,-5],"tickSize":-9,"labelPadding":19,"title":"Vᴘ(mV)","titlePadding":13,"titleX":363,"titleAlign":"center"}},
 "y":{"field":"y","type":"quantitative","scale":{"domain":[10.957,12.327],"nice":false,"zero":false},"axis":{"orient":"left","values":[11.0,11.5,12.0],"format":".1f","tickSize":-9,"labelPadding":19,"title":"Rᴅ(kΩ)","titleX":-80,"titleY":100,"titleAngle":270,"titleAlign":"center","titleBaseline":"middle"}}}},
{"data":{"name":"botPurple"},"transform":[{"filter":"datum.x >= -11.65"}],"mark":{"type":"line","color":"#3333ff","strokeWidth":4.5,"clip":true},"encoding":{"x":{"field":"x","type":"quantitative","axis":null},"y":{"field":"y","type":"quantitative","axis":null}}},
{"data":{"name":"botPurple"},"mark":{"type":"line","color":"#8a2be2","strokeWidth":4,"strokeDash":[4,4],"clip":true},"encoding":{"x":{"field":"x","type":"quantitative","axis":null},"y":{"field":"y","type":"quantitative","axis":null}}},
{"data":{"name":"botBlack"},"transform":[{"filter":"datum.x <= -9.55"}],"mark":{"type":"line","color":"#000","strokeWidth":5,"clip":true},"encoding":{"x":{"field":"x","type":"quantitative","axis":null},"y":{"field":"y","type":"quantitative","axis":null}}},
{"data":{"name":"botBlack"},"transform":[{"filter":"datum.x >= -9.61"}],"mark":{"type":"line","color":"#000","strokeWidth":4.5,"strokeDash":[4,4],"clip":true},"encoding":{"x":{"field":"x","type":"quantitative","axis":null},"y":{"field":"y","type":"quantitative","axis":null}}},
{"data":{"values":[{}]},"mark":{"type":"text","align":"left","baseline":"middle","fontSize":22,"font":"Liberation Sans","color":"#000"},"encoding":{"x":{"datum":-19.45,"type":"quantitative","axis":null},"y":{"datum":12.2,"type":"quantitative","axis":null},"text":{"value":"ν = 5/2"}}},
{"data":{"name":"botRed"},"mark":{"type":"line","opacity":0},"encoding":{"x":{"field":"x","type":"quantitative","axis":{"orient":"top","values":[-20,-15,-10,-5,0],"tickSize":-9,"labels":false,"title":null}},"y":{"field":"y","type":"quantitative","axis":{"orient":"right","values":[11.0,11.5,12.0],"tickSize":-9,"labels":false,"title":null}}}}
],
"resolve":{"axis":{"x":"independent","y":"independent"}}
}
]
}
